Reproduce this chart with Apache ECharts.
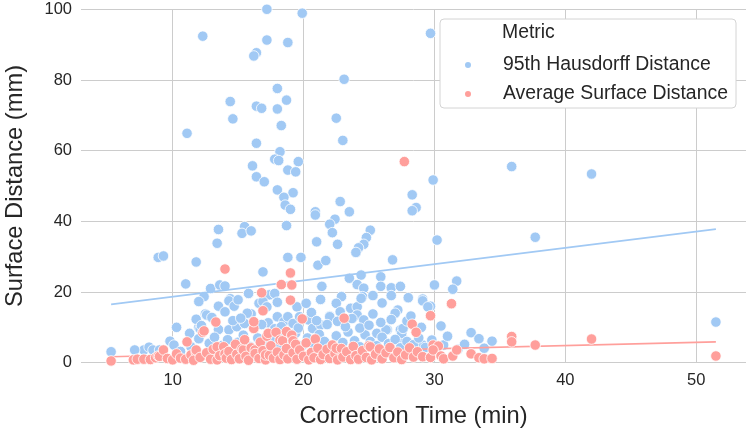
<!DOCTYPE html>
<html>
<head>
<meta charset="utf-8">
<script src="https://cdn.jsdelivr.net/npm/echarts@6/dist/echarts.min.js"></script>
<style>html,body{margin:0;padding:0;background:#fff}#c{width:749px;height:431px}</style>
</head>
<body>
<div id="c"></div>
<script>
// ---- data ----
const seriesNames = ['95th Hausdorff Distance', 'Average Surface Distance'];
const xTicks = [10, 20, 30, 40, 50];
const yTicks = [0, 20, 40, 60, 80, 100];

// 95th Hausdorff Distance: [correction time (min), distance (mm)]
const hausdorffPoints = [
  [12.3,92.4],[17.2,100.0],[19.9,98.9],[29.7,93.2],[17.2,91.3],[18.8,90.6],[16.4,87.7],[16.2,86.8],
  [23.1,80.2],[18.0,77.6],[18.7,74.3],[14.4,73.9],[16.4,72.6],[16.8,72.0],[18.0,71.8],[14.6,69.0],
  [22.5,69.2],[18.3,67.1],[11.1,64.9],[16.4,62.1],[23.0,62.9],[18.2,59.7],[17.8,57.6],[18.1,57.2],
  [19.6,56.9],[16.1,55.7],[18.8,54.5],[19.4,54.0],[16.4,52.6],[17.0,51.2],[29.9,51.7],[18.0,48.9],
  [19.2,48.1],[18.5,46.8],[22.8,45.6],[18.6,44.6],[19.0,43.4],[28.3,47.5],[23.5,42.7],[20.9,42.7],
  [20.9,41.8],[28.6,43.9],[28.3,43.0],[22.4,40.6],[22.0,39.2],[18.7,38.8],[22.2,36.8],[25.1,37.5],
  [24.8,35.4],[24.6,33.5],[24.2,32.5],[24.0,31.2],[13.5,37.7],[15.5,38.5],[15.3,36.6],[16.0,37.3],
  [13.4,33.8],[21.0,34.2],[22.6,33.5],[30.2,34.7],[8.9,29.8],[9.3,30.2],[11.8,28.5],[18.8,29.8],
  [19.8,29.8],[21.1,27.6],[21.7,28.9],[26.8,29.1],[16.9,25.7],[11.0,22.3],[12.9,21.0],[13.6,22.0],
  [14.0,21.7],[23.5,23.9],[24.4,24.8],[25.9,24.3],[21.4,21.6],[24.1,22.1],[24.6,21.1],[25.9,21.6],
  [26.7,21.2],[27.4,21.6],[30.0,22.0],[12.4,18.7],[14.4,18.1],[15.8,19.6],[22.9,18.7],[24.5,18.7],
  [25.3,19.0],[26.7,19.0],[29.1,18.0],[35.9,55.5],[42.0,53.4],[37.7,35.5],[31.7,23.1],[31.4,20.8],
  [29.1,17.5],[29.7,16.0],[29.0,10.0],[30.5,10.4],[32.8,8.5],[33.4,6.8],[34.4,6.1],[33.8,4.1],
  [30.7,5.0],[51.5,11.5],
  [17.4,19.2],[17.8,19.6],[19.5,15.8],[22.5,16.8],[23.6,15.4],[24.1,15.8],[24.4,18.2],[27.2,14.9],
  [22.0,13.2],[26.4,9.3],[27.4,9.3],[27.6,6.9],[29.1,5.0],[12.0,17.3],[12.5,13.8],[13.5,16.0],
  [14.3,17.5],[14.0,14.4],[16.0,13.8],[16.6,16.8],[16.9,17.3],[10.3,10.0],[11.3,8.3],[12.0,10.0],
  [12.1,9.6],[13.5,9.4],[14.3,9.3],[14.9,10.2],[15.3,12.1],[14.6,11.9],[9.8,6.1],[10.1,5.0],
  [7.8,3.6],[8.2,4.4],[5.3,3.1],[7.1,3.6],[8.5,3.6],[9.0,3.6],[12.6,13.5],[15.7,14.0],[15.5,11.1],
  [17.3,11.3],[18.0,13.0],[18.5,11.6],[18.8,13.0],[19.2,11.1],[19.7,13.0],[20.4,12.1],[20.7,9.7],
  [21.3,10.7],[22.0,13.0],[22.8,14.4],[24.1,13.5],[24.6,12.1],[25.6,8.3],[26.3,9.3],[27.0,14.0],
  [27.5,8.3],[27.6,9.7],[29.5,15.8],
  [10.6,3.2],[11.4,4.5],[12.0,6.8],[12.8,5.5],[13.2,7.2],[13.8,4.9],[14.2,6.5],[15.0,5.8],
  [15.4,7.8],[15.9,4.6],[16.5,7.0],[17.0,5.2],[17.6,6.6],[18.1,4.4],[18.6,7.4],[19.0,5.6],
  [19.4,8.4],[19.9,4.8],[20.3,7.0],[20.8,5.3],[21.2,8.0],[21.6,6.0],[22.1,4.4],[22.5,7.6],
  [23.0,5.7],[23.4,8.7],[23.9,6.2],[24.3,4.5],[24.7,7.9],[25.1,6.0],[25.6,4.8],[26.0,7.2],
  [26.5,5.4],[27.0,6.6],[27.4,4.2],[27.9,6.0],[28.4,5.1],[28.8,7.0],[29.3,4.3],[29.8,6.4],
  [31.0,7.5],[31.8,3.8],[32.3,5.2],[11.8,12.3],[12.2,10.5],[13.0,12.8],[15.2,12.6],[16.8,10.8],
  [17.8,9.6],[18.3,10.2],[19.6,9.8],[20.6,14.2],[21.0,11.9],[21.8,10.8],[22.6,11.7],[23.2,10.2],
  [23.7,12.5],[24.3,9.8],[25.0,10.6],[25.3,13.8],[25.9,11.4],[26.7,12.2],[27.9,11.8],[28.2,13.2],
  [14.7,16.0],[15.0,17.8],[17.2,15.8],[18.0,17.1],[20.2,16.8],[21.3,17.9],[26.0,16.9],[28.0,18.4]
];

// Average Surface Distance: [correction time (min), distance (mm)]
const surfacePoints = [
  [5.3,0.5],[7.0,0.8],[7.3,1.0],[7.8,1.0],[8.3,0.9],[8.7,1.4],[8.9,1.9],[9.0,1.8],[9.3,3.6],[9.6,1.2],
  [10.0,0.8],[10.3,2.5],[10.6,1.3],[11.1,5.9],[11.0,1.0],[11.4,2.2],[11.8,3.0],[11.6,0.7],[11.8,3.6],
  [12.1,1.5],[12.3,8.6],[12.4,9.0],[12.6,2.8],[12.9,1.0],[13.3,11.5],[13.1,3.8],[13.4,0.8],[13.4,4.5],
  [13.6,2.0],[13.9,4.5],[14.0,26.5],[14.0,2.5],[14.1,1.3],[14.3,3.2],[14.5,0.9],[14.8,5.2],[14.9,2.4],
  [15.1,1.1],[15.3,3.9],[15.4,3.6],[15.5,6.5],[15.6,1.8],[15.8,0.7],[16.0,4.2],[16.2,9.7],[16.2,11.6],
  [16.3,3.6],[16.3,2.6],[16.6,1.2],[16.8,19.8],[16.9,14.7],[16.7,5.8],[16.9,3.4],[17.1,0.8],[17.1,2.2],
  [17.2,7.5],[17.3,8.3],[17.4,2.1],[17.5,4.8],[17.7,1.3],[17.9,8.6],[18.0,3.0],[18.2,0.9],[18.2,6.4],
  [18.3,22.1],[18.4,6.2],[18.5,2.2],[18.7,4.0],[18.7,8.8],[18.8,1.1],[19.0,25.4],[19.1,22.0],
  [19.0,17.7],[19.1,7.8],[19.2,6.2],[19.2,2.8],[19.4,5.2],[19.5,1.0],[19.7,3.6],[19.9,12.4],[20.0,1.8],
  [20.2,5.6],[20.4,0.8],[20.6,2.9],[20.9,6.7],[20.8,1.4],[21.1,4.1],[21.3,0.9],[21.5,2.3],[21.8,3.8],
  [22.0,1.2],[22.2,5.0],[22.4,2.6],[22.5,4.1],[22.6,0.8],[22.9,4.0],[23.1,12.6],[23.0,1.6],[23.3,3.1],
  [23.6,0.9],[23.8,4.6],[24.0,2.0],[24.2,1.0],[24.5,3.4],[24.8,1.5],[25.0,4.8],[25.1,4.5],[25.2,0.8],
  [25.5,2.4],[25.8,3.9],[26.0,1.1],[26.3,2.8],[26.6,4.3],[26.9,1.4],[27.2,3.0],[27.5,0.9],[27.7,56.9],
  [27.8,2.2],[28.1,4.2],[28.3,10.9],[28.6,8.6],[28.4,1.6],[28.7,3.1],[29.1,1.7],[29.7,13.3],[29.7,1.5],
  [29.9,5.0],[30.3,4.7],[29.9,3.6],[30.5,1.9],[30.7,1.1],[31.3,16.7],[31.4,1.9],[31.7,3.6],[32.8,2.5],
  [33.4,1.4],[33.8,1.1],[34.4,1.2],[35.9,7.4],[35.9,5.9],[37.7,5.0],[42.0,6.7],[51.5,1.9]
];

// fitted regression lines (end points)
const hausdorffFit = [[5.3,16.5],[51.5,37.8]];
const surfaceFit = [[5.3,1.7],[51.5,5.9]];

const xRange = [3.0, 53.8];
const yRange = [0, 100];

const blue = '#a1c9f4';
const red = '#ff9f9b';
const textColor = '#262626';
const font = 'Liberation Sans, Arial, sans-serif';

const chart = echarts.init(document.getElementById('c'), null, {renderer: 'canvas'});
chart.setOption({
  animation: false,
  backgroundColor: '#ffffff',
  grid: {left: 81, right: 3, top: 9.3, bottom: 68.3, containLabel: false, outerBoundsMode: 'none'},
  xAxis: {
    type: 'value', min: xRange[0], max: xRange[1], splitNumber: 5,
    name: 'Correction Time (min)', nameLocation: 'middle', nameGap: 42,
    nameTextStyle: {fontFamily: font, fontSize: 23.7, color: textColor},
    axisLine: {show: false}, axisTick: {show: false},
    axisLabel: {fontFamily: font, fontSize: 16.5, color: textColor, margin: 9,
      showMinLabel: false, showMaxLabel: false,
      formatter: v => xTicks.includes(v) ? String(v) : ''},
    splitLine: {show: true, showMinLine: false, showMaxLine: false, lineStyle: {color: '#cccccc', width: 1}}
  },
  yAxis: {
    type: 'value', min: yRange[0], max: yRange[1], interval: 20,
    name: 'Surface Distance (mm)', nameLocation: 'middle', nameGap: 54,
    nameTextStyle: {fontFamily: font, fontSize: 23.7, color: textColor},
    axisLine: {show: false}, axisTick: {show: false},
    axisLabel: {fontFamily: font, fontSize: 16.5, color: textColor, margin: 9,
      formatter: v => yTicks.includes(v) ? String(v) : ''},
    splitLine: {show: true, lineStyle: {color: '#cccccc', width: 1}}
  },
  legend: {
    data: seriesNames, orient: 'vertical', left: 463, top: 55, padding: 0,
    icon: 'circle', itemWidth: 8, itemHeight: 8, itemGap: 9, z: 6,
    selectedMode: false,
    textStyle: {fontFamily: font, fontSize: 19.4, color: textColor, lineHeight: 20, padding: [0,0,0,26]}
  },
  graphic: [
    {type: 'rect', z: 5, shape: {x: 440, y: 19, width: 296, height: 89, r: 4},
      style: {fill: '#ffffff', stroke: '#d4d4d4', lineWidth: 1}},
    {type: 'text', z: 6, x: 502, y: 33,
      style: {text: 'Metric', fontFamily: font, fontSize: 19.4, fill: textColor, verticalAlign: 'middle'}}
  ],
  series: [
    {name: seriesNames[0], type: 'scatter', data: hausdorffPoints, symbolSize: 10.5, z: 2,
      itemStyle: {color: blue, borderColor: '#ffffff', borderWidth: 0.8, opacity: 1}, silent: true},
    {name: 'hdfit', type: 'line', data: hausdorffFit, showSymbol: false, symbol: 'none', z: 3,
      lineStyle: {color: blue, width: 1.6}, silent: true},
    {name: seriesNames[1], type: 'scatter', data: surfacePoints, symbolSize: 10.5, z: 4,
      itemStyle: {color: red, borderColor: '#ffffff', borderWidth: 0.8, opacity: 1}, silent: true},
    {name: 'asdfit', type: 'line', data: surfaceFit, showSymbol: false, symbol: 'none', z: 4,
      lineStyle: {color: red, width: 1.6}, silent: true}
  ]
});
</script>
</body>
</html>
